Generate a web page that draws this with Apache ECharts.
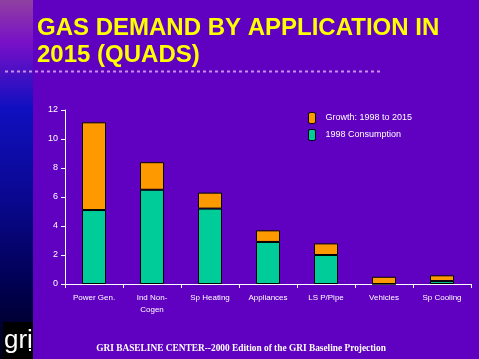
<!DOCTYPE html>
<html><head><meta charset="utf-8">
<script src="https://cdn.jsdelivr.net/npm/echarts@6/dist/echarts.min.js"></script>
<style>html,body{margin:0;padding:0;background:#6000C0;}#c{width:479px;height:359px;}</style>
</head><body><div id="c"></div>
<script>
const categories = ['Power Gen.', 'Ind Non-\nCogen', 'Sp Heating', 'Appliances', 'LS P/Pipe', 'Vehicles', 'Sp Cooling'];
const consumption1998 = [5.1, 6.5, 5.2, 2.9, 2.0, 0, 0.2];
const growth = [6.05, 1.9, 1.1, 0.8, 0.8, 0.5, 0.4];
const yTicks = [0, 2, 4, 6, 8, 10, 12];

const chart = echarts.init(document.getElementById('c'), null, {renderer: 'canvas'});
chart.setOption({
  backgroundColor: '#6000C0',
  animation: false,
  title: {
    text: 'GAS DEMAND BY APPLICATION IN\n2015 (QUADS)',
    left: 32, top: 10,
    textStyle: {color: '#FFFF00', fontSize: 24, fontWeight: 'bold', fontFamily: 'Liberation Sans, Arial', lineHeight: 27}
  },
  legend: {
    data: ['Growth: 1998 to 2015', '1998 Consumption'],
    orient: 'vertical', left: 303, top: 107,
    itemWidth: 7, itemHeight: 11, itemGap: 5,
    textStyle: {color: '#FFFFFF', fontSize: 9, fontFamily: 'Liberation Sans, Arial', padding: [0, 0, 0, 5]},
    itemStyle: {borderColor: '#000', borderWidth: 1}
  },
  grid: {left: 65, right: 8, top: 110, bottom: 75, containLabel: false},
  xAxis: {
    type: 'category', data: categories,
    axisLine: {lineStyle: {color: '#FFFFFF', width: 1}},
    axisTick: {show: true, length: 4, lineStyle: {color: '#FFFFFF'}},
    axisLabel: {color: '#FFFFFF', fontSize: 8, fontFamily: 'Liberation Sans, Arial', lineHeight: 12, margin: 8, interval: 0}
  },
  yAxis: {
    type: 'value', min: yTicks[0], max: yTicks[yTicks.length - 1], interval: yTicks[1] - yTicks[0],
    splitLine: {show: false},
    axisLine: {show: true, lineStyle: {color: '#FFFFFF', width: 1}},
    axisTick: {show: true, length: 4, lineStyle: {color: '#FFFFFF'}},
    axisLabel: {color: '#FFFFFF', fontSize: 9, fontFamily: 'Liberation Sans, Arial', margin: 7}
  },
  series: [
    {name: '1998 Consumption', type: 'bar', stack: 's', data: consumption1998, barWidth: 24,
     itemStyle: {color: '#00CC99', borderColor: '#000', borderWidth: 1}},
    {name: 'Growth: 1998 to 2015', type: 'bar', stack: 's', data: growth, barWidth: 24,
     itemStyle: {color: '#FF9900', borderColor: '#000', borderWidth: 1}}
  ],
  graphic: [
    {type: 'rect', left: 0, top: 0, shape: {width: 33, height: 359}, silent: true,
     style: {fill: new echarts.graphic.LinearGradient(0, 0, 0, 1, [
       {offset: 0, color: '#9040A0'},
       {offset: 0.12, color: '#7810C8'},
       {offset: 0.3, color: '#1010C0'},
       {offset: 0.55, color: '#0A0890'},
       {offset: 0.8, color: '#000050'},
       {offset: 1, color: '#000018'}
     ])}},
    {type: 'rect', left: 3, top: 322, shape: {width: 30, height: 37}, silent: true, style: {fill: '#000000'}},
    {type: 'text', left: 4, top: 328, silent: true,
     style: {text: 'gri', fill: '#FFFFFF', font: '26px "Liberation Sans Narrow", "Liberation Sans", Arial'}},
    {type: 'rect', left: 29, top: 349, shape: {width: 2, height: 2}, silent: true, style: {fill: '#FFFFFF'}},
    {type: 'line', silent: true, shape: {x1: 5, y1: 71.5, x2: 381, y2: 71.5},
     style: {stroke: '#C890E8', lineWidth: 2, lineDash: [3, 3]}},
    {type: 'text', x: 241, y: 348, silent: true, scaleX: 0.85,
     style: {text: 'GRI BASELINE CENTER--2000 Edition of the GRI Baseline Projection', fill: '#FFFFFF',
       font: 'bold 11px "Liberation Serif", "Times New Roman", serif', textAlign: 'center', textVerticalAlign: 'middle'}}
  ]
});
</script></body></html>
